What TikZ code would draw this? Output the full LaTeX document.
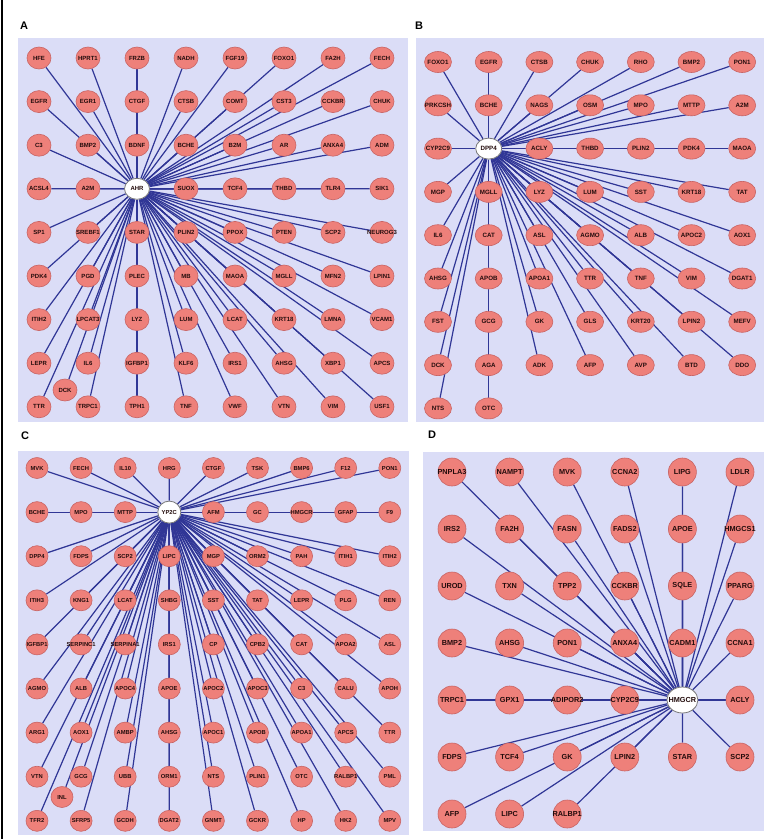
\documentclass[tikz,border=0pt]{standalone}
\usepackage{fontspec}
\setmainfont{Liberation Sans}
\usetikzlibrary{shapes.geometric}
\pgfdeclarelayer{bglayer}
\pgfdeclarelayer{edgelayer}
\pgfsetlayers{bglayer,edgelayer,main}
\definecolor{panelbg}{RGB}{219,221,247}
\definecolor{nodefill}{RGB}{238,128,122}
\definecolor{nodeline}{RGB}{200,100,100}
\definecolor{edgecol}{RGB}{48,54,150}
\definecolor{txtcol}{RGB}{35,12,12}
\definecolor{hubline}{RGB}{120,120,120}
\newcommand{\glab}[1]{\makebox[0pt][c]{#1}}
\tikzset{
  gene/.style={ellipse, fill=nodefill, draw=nodeline, line width=0.6pt, inner sep=0pt, text=txtcol},
  geneA/.style={gene, minimum width=24pt, minimum height=22pt, font=\fontsize{6}{6}\selectfont\bfseries},
  geneB/.style={gene, minimum width=27pt, minimum height=21pt, font=\fontsize{6.2}{6}\selectfont\bfseries},
  geneC/.style={gene, minimum width=22pt, minimum height=21pt, font=\fontsize{5.8}{6}\selectfont\bfseries},
  geneD/.style={gene, minimum width=28pt, minimum height=28pt, font=\fontsize{7.3}{8}\selectfont\bfseries},
  hub/.style={fill=white, draw=hubline, line width=0.8pt},
  conn/.style={draw=edgecol, line width=1.2pt},
  plabel/.style={font=\fontsize{11}{12}\selectfont\bfseries, text=black, inner sep=0pt}
}
\begin{document}
\begin{tikzpicture}[x=1pt,y=-1pt]
\useasboundingbox (0,0) rectangle (768,839);
\begin{pgfonlayer}{bglayer}
  \fill[white] (0,0) rectangle (768,839);
  \fill[black] (0.5,0) rectangle (3,839);
  \fill[panelbg] (18,38) rectangle (408,422);
  \fill[panelbg] (416,38) rectangle (764,422);
  \fill[panelbg] (18,451) rectangle (409,835);
  \fill[panelbg] (423,452) rectangle (764,831);
\end{pgfonlayer}

\node[plabel] (labA) at (24,26) {A};
\node[plabel] (labB) at (419,26) {B};
\node[plabel] (labC) at (25,436) {C};
\node[plabel] (labD) at (432,435) {D};

% ---------------- Panel A ----------------
\node[geneA, hub, minimum width=25pt, minimum height=21pt] (a-AHR) at (137,188.8) {\glab{AHR}};
\foreach \n/\c/\r in {HFE/1/1,HPRT1/2/1,FRZB/3/1,NADH/4/1,FGF19/5/1,FOXO1/6/1,FA2H/7/1,FECH/8/1,
  EGFR/1/2,EGR1/2/2,CTGF/3/2,CTSB/4/2,COMT/5/2,CST3/6/2,CCKBR/7/2,CHUK/8/2,
  C3/1/3,BMP2/2/3,BDNF/3/3,BCHE/4/3,B2M/5/3,AR/6/3,ANXA4/7/3,ADM/8/3,
  ACSL4/1/4,A2M/2/4,SUOX/4/4,TCF4/5/4,THBD/6/4,TLR4/7/4,SIK1/8/4,
  SP1/1/5,SREBF1/2/5,STAR/3/5,PLIN2/4/5,PPOX/5/5,PTEN/6/5,SCP2/7/5,NEUROG3/8/5,
  PDK4/1/6,PGD/2/6,PLEC/3/6,MB/4/6,MAOA/5/6,MGLL/6/6,MFN2/7/6,LPIN1/8/6,
  ITIH2/1/7,LPCAT3/2/7,LYZ/3/7,LUM/4/7,LCAT/5/7,KRT18/6/7,LMNA/7/7,VCAM1/8/7,
  LEPR/1/8,IL6/2/8,IGFBP1/3/8,KLF6/4/8,IRS1/5/8,AHSG/6/8,XBP1/7/8,APCS/8/8,
  TTR/1/9,TRPC1/2/9,TPH1/3/9,TNF/4/9,VWF/5/9,VTN/6/9,VIM/7/9,USF1/8/9}{
  \node[geneA] (a-\n) at ({39+(\c-1)*49},{58+(\r-1)*43.6}) {\glab{\n}};
  \begin{pgfonlayer}{edgelayer}\draw[conn] (a-AHR) -- (a-\n);\end{pgfonlayer}
}
\node[geneA] (a-DCK) at (65,390) {\glab{DCK}};
\begin{pgfonlayer}{edgelayer}\draw[conn] (a-AHR) -- (a-DCK);\end{pgfonlayer}

% ---------------- Panel B ----------------
\node[geneB, hub, minimum width=26pt, minimum height=21pt] (b-DPP4) at (488.7,148.6) {\glab{DPP4}};
\foreach \n/\c/\r in {FOXO1/1/1,EGFR/2/1,CTSB/3/1,CHUK/4/1,RHO/5/1,BMP2/6/1,PON1/7/1,
  PRKCSH/1/2,BCHE/2/2,NAGS/3/2,OSM/4/2,MPO/5/2,MTTP/6/2,A2M/7/2,
  CYP2C9/1/3,ACLY/3/3,THBD/4/3,PLIN2/5/3,PDK4/6/3,MAOA/7/3,
  MGP/1/4,MGLL/2/4,LYZ/3/4,LUM/4/4,SST/5/4,KRT18/6/4,TAT/7/4,
  IL6/1/5,CAT/2/5,ASL/3/5,AGMO/4/5,ALB/5/5,APOC2/6/5,AOX1/7/5,
  AHSG/1/6,APOB/2/6,APOA1/3/6,TTR/4/6,TNF/5/6,VIM/6/6,DGAT1/7/6,
  FST/1/7,GCG/2/7,GK/3/7,GLS/4/7,KRT20/5/7,LPIN2/6/7,MEFV/7/7,
  DCK/1/8,AGA/2/8,ADK/3/8,AFP/4/8,AVP/5/8,BTD/6/8,DDO/7/8,
  NTS/1/9,OTC/2/9}{
  \node[geneB] (b-\n) at ({438+(\c-1)*50.7},{62+(\r-1)*43.3}) {\glab{\n}};
  \begin{pgfonlayer}{edgelayer}\draw[conn] (b-DPP4) -- (b-\n);\end{pgfonlayer}
}

% ---------------- Panel C ----------------
\node[geneC, hub, minimum width=23pt, minimum height=22pt] (c-YP2C) at (169.3,512.1) {\glab{YP2C}};
\foreach \n/\c/\r in {MVK/1/1,FECH/2/1,IL10/3/1,HRG/4/1,CTGF/5/1,TSK/6/1,BMP6/7/1,F12/8/1,PON1/9/1,
  BCHE/1/2,MPO/2/2,MTTP/3/2,AFM/5/2,GC/6/2,HMGCR/7/2,GFAP/8/2,F9/9/2,
  DPP4/1/3,FDPS/2/3,SCP2/3/3,LIPC/4/3,MGP/5/3,ORM2/6/3,PAH/7/3,ITIH1/8/3,ITIH2/9/3,
  ITIH3/1/4,KNG1/2/4,LCAT/3/4,SHBG/4/4,SST/5/4,TAT/6/4,LEPR/7/4,PLG/8/4,REN/9/4,
  IGFBP1/1/5,SERPINC1/2/5,SERPINA1/3/5,IRS1/4/5,CP/5/5,CPB2/6/5,CAT/7/5,APOA2/8/5,ASL/9/5,
  AGMO/1/6,ALB/2/6,APOC4/3/6,APOE/4/6,APOC2/5/6,APOC3/6/6,C3/7/6,CALU/8/6,APOH/9/6,
  ARG1/1/7,AOX1/2/7,AMBP/3/7,AHSG/4/7,APOC1/5/7,APOB/6/7,APOA1/7/7,APCS/8/7,TTR/9/7,
  VTN/1/8,GCG/2/8,UBB/3/8,ORM1/4/8,NTS/5/8,PLIN1/6/8,OTC/7/8,RALBP1/8/8,PML/9/8,
  TFR2/1/9,SFRP5/2/9,GCDH/3/9,DGAT2/4/9,GNMT/5/9,GCKR/6/9,HP/7/9,HK2/8/9,MPV/9/9}{
  \node[geneC] (c-\n) at ({37+(\c-1)*44.1},{468+(\r-1)*44.1}) {\glab{\n}};
  \begin{pgfonlayer}{edgelayer}\draw[conn] (c-YP2C) -- (c-\n);\end{pgfonlayer}
}
\node[geneC] (c-INL) at (62,797) {\glab{INL}};
\begin{pgfonlayer}{edgelayer}\draw[conn] (c-YP2C) -- (c-INL);\end{pgfonlayer}

% ---------------- Panel D ----------------
\node[geneD, hub, minimum width=31pt, minimum height=26pt] (d-HMGCR) at (682.4,700) {\glab{HMGCR}};
\foreach \n/\c/\r in {PNPLA3/1/1,NAMPT/2/1,MVK/3/1,CCNA2/4/1,LIPG/5/1,LDLR/6/1,
  IRS2/1/2,FA2H/2/2,FASN/3/2,FADS2/4/2,APOE/5/2,HMGCS1/6/2,
  UROD/1/3,TXN/2/3,TPP2/3/3,CCKBR/4/3,SQLE/5/3,PPARG/6/3,
  BMP2/1/4,AHSG/2/4,PON1/3/4,ANXA4/4/4,CADM1/5/4,CCNA1/6/4,
  TRPC1/1/5,GPX1/2/5,ADIPOR2/3/5,CYP2C9/4/5,ACLY/6/5,
  FDPS/1/6,TCF4/2/6,GK/3/6,LPIN2/4/6,STAR/5/6,SCP2/6/6,
  AFP/1/7,LIPC/2/7,RALBP1/3/7}{
  \node[geneD] (d-\n) at ({452+(\c-1)*57.6},{472+(\r-1)*57}) {\glab{\n}};
  \begin{pgfonlayer}{edgelayer}\draw[conn] (d-HMGCR) -- (d-\n);\end{pgfonlayer}
}
\end{tikzpicture}
\end{document}
